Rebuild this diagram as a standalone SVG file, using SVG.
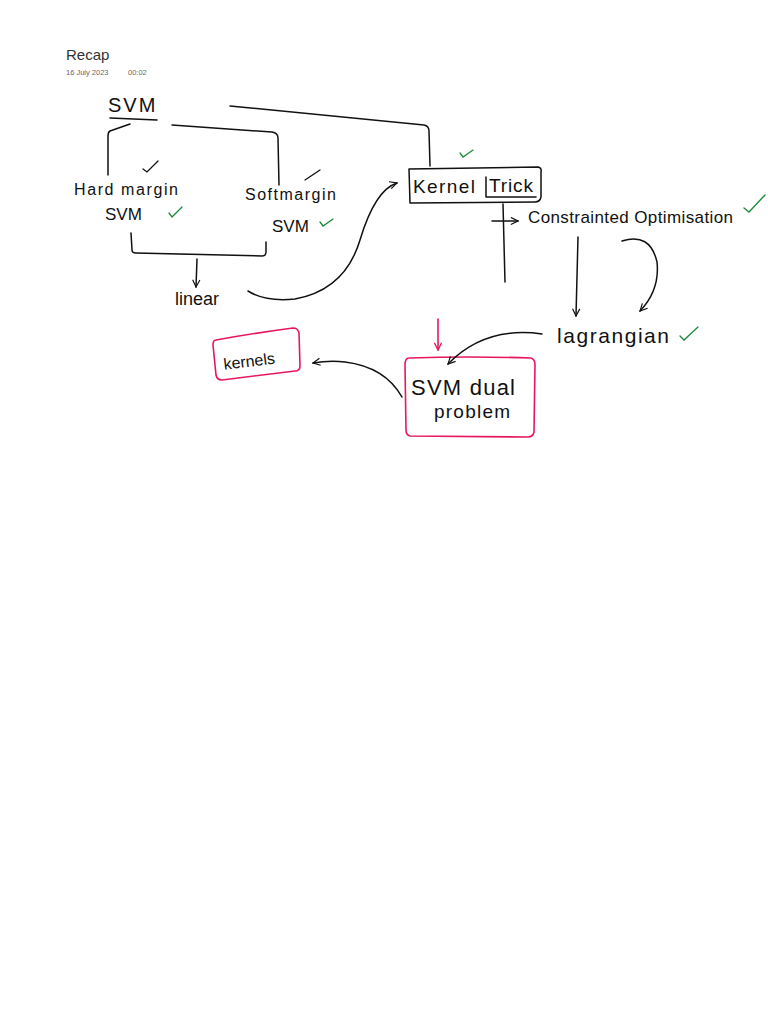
<svg xmlns="http://www.w3.org/2000/svg" width="768" height="1024" viewBox="0 0 768 1024">
<defs>
<marker id="ah" viewBox="0 0 10 10" refX="9" refY="5" markerWidth="9" markerHeight="9" orient="auto" markerUnits="userSpaceOnUse"><path d="M1,1 L9,5 L1,9" fill="none" stroke="#111" stroke-width="1.3"/></marker>
<marker id="ahp" viewBox="0 0 10 10" refX="9" refY="5" markerWidth="9" markerHeight="9" orient="auto" markerUnits="userSpaceOnUse"><path d="M1,1 L9,5 L1,9" fill="none" stroke="#e8175d" stroke-width="1.5"/></marker>
</defs>
<style>
.hw{font-family:"Liberation Sans",Arial,sans-serif;fill:#111;}
.ln{fill:none;stroke:#111;stroke-width:1.5;stroke-linecap:round;stroke-linejoin:round;}
.pk{fill:none;stroke:#e8175d;stroke-width:1.6;stroke-linecap:round;stroke-linejoin:round;}
.gc{fill:none;stroke:#1a8a3a;stroke-width:1.3;stroke-linecap:round;}
.bc{fill:none;stroke:#111;stroke-width:1.3;stroke-linecap:round;}
</style>
<rect width="768" height="1024" fill="#fff"/>
<g id="header">
<text x="66" y="60" font-family="Liberation Sans,Arial,sans-serif" font-size="15" fill="#333">Recap</text>
<text x="66" y="75" font-family="Liberation Sans,Arial,sans-serif" font-size="7.5" fill="#666">16 July 2023</text>
<text x="128" y="75" font-family="Liberation Sans,Arial,sans-serif" font-size="7.5" fill="#666">00:02</text>
</g>
<g id="svm">
<text class="hw" x="108" y="112" font-size="20" letter-spacing="2">SVM</text>
<path class="ln" d="M110,118 L157,120"/>
</g>
<g id="hard-margin">
<text class="hw" x="74" y="195" font-size="16" textLength="104">Hard margin</text>
<text class="hw" x="105" y="220" font-size="17">SVM</text>
<path class="bc" d="M143,169 L147,172 L158,161"/>
<path class="gc" d="M169,213 L172,217 L182,207"/>
</g>
<g id="soft-margin">
<text class="hw" x="245" y="200" font-size="16" textLength="91">Softmargin</text>
<text class="hw" x="272" y="232" font-size="17">SVM</text>
<path class="bc" d="M305,180 L320,170"/>
<path class="gc" d="M320,222 L323,226 L333,219"/>
</g>
<g id="linear">
<text class="hw" x="175" y="305" font-size="18">linear</text>
</g>
<g id="kernel-trick">
<path class="ln" d="M409,169 L538,167 Q542,168 541,172 L541,197 Q540,202 535,202 L410,203 Z"/>
<path class="ln" d="M486,177 L486,197 L536,197"/>
<text class="hw" x="413" y="193" font-size="19" textLength="62">Kernel</text>
<text class="hw" x="489" y="192" font-size="19" textLength="44">Trick</text>
<path class="gc" d="M460,153 L463,157 L473,150"/>
</g>
<g id="constrained">
<text class="hw" x="528" y="223" font-size="17" textLength="205">Constrainted Optimisation</text>
<path class="gc" d="M744,208 L749,212 L765,195"/>
</g>
<g id="lagrangian">
<text class="hw" x="557" y="343" font-size="21" textLength="112">lagrangian</text>
<path class="gc" d="M680,336 L684,340 L698,327"/>
</g>
<g id="svm-dual">
<path class="pk" d="M409,358 Q470,356 531,358 Q535,359 535,365 L534,432 Q533,437 528,437 L410,436 Q406,435 406,430 L405,365 Q405,358 409,358 Z"/>
<text class="hw" x="411" y="395" font-size="22" textLength="104">SVM dual</text>
<text class="hw" x="434" y="418" font-size="19" textLength="76">problem</text>
</g>
<g id="kernels">
<path class="pk" d="M216,340 Q255,333 293,328 Q298,328 299,333 L300,366 Q300,371 295,371 L222,380 Q217,380 216,375 L213,345 Q213,340 216,340 Z"/>
<text class="hw" x="223" y="366" font-size="16" transform="rotate(-7 255 358)">kernels</text>
</g>
<g id="connectors">
<path class="ln" d="M130,124 L110,131 Q108,132 108,136 L108,175"/>
<path class="ln" d="M172,125 L272,132 Q278,133 278,138 L279,185"/>
<path class="ln" d="M131,233 L132,250 Q132,253 136,253 L262,256 Q266,256 266,252 L266,242"/>
<path class="ln" d="M197,259 L196,287" marker-end="url(#ah)"/>
<path class="ln" d="M230,106 L424,125 Q429,126 429,131 L430,166"/>
<path class="ln" d="M248,291 Q265,302 295,299 Q345,290 360,240 Q375,190 397,183" marker-end="url(#ah)"/>
<path class="ln" d="M503,204 L505,282"/>
<path class="ln" d="M492,221 L518,221" marker-end="url(#ah)"/>
<path class="ln" d="M578,237 L576,316" marker-end="url(#ah)"/>
<path class="ln" d="M622,241 Q650,232 657,262 Q660,290 640,311" marker-end="url(#ah)"/>
<path class="ln" d="M542,334 Q485,326 448,364" marker-end="url(#ah)"/>
<path class="pk" d="M438,319 L438,350" marker-end="url(#ahp)"/>
<path class="ln" d="M402,397 Q385,367 345,362 Q330,360 313,363" marker-end="url(#ah)"/>
</g>
</svg>
